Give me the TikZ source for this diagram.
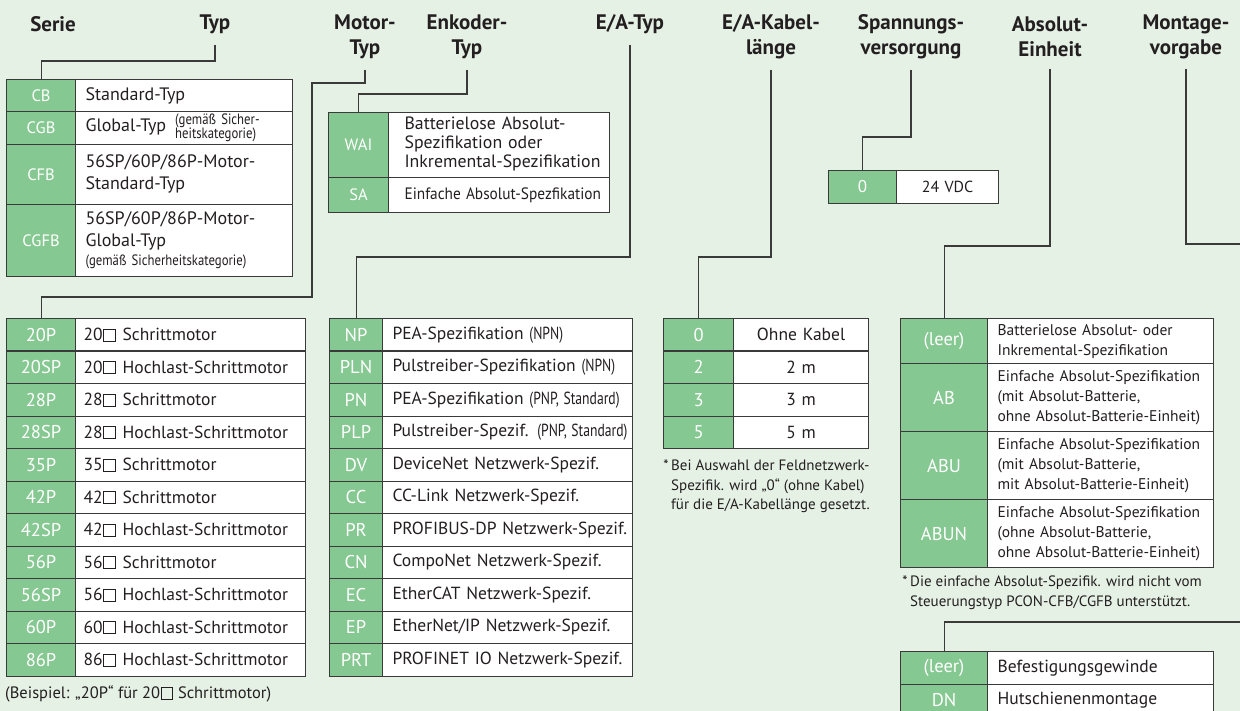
\documentclass[tikz,border=0pt]{standalone}
\usepackage{fontspec}
\setmainfont{PT Sans}
\usepackage{graphicx}
\usepackage{tikz}
\usetikzlibrary{positioning}
\definecolor{pBg}{HTML}{E5F1E5}
\definecolor{pCode}{HTML}{86C891}
\definecolor{pInk}{HTML}{231F20}
\definecolor{pLine}{HTML}{3A3A3A}

\newcommand{\fsz}[2]{\fontsize{#1}{#2}\selectfont}
\newcommand{\cnd}[1]{\scalebox{0.78}[1]{#1}}
\newcommand{\rows}[1]{\begin{tabular}[c]{@{}l@{}}#1\end{tabular}}
\newcommand{\qsq}{\kern0.04em{\setlength{\fboxsep}{0pt}\setlength{\fboxrule}{0.055em}\fbox{\rule{0pt}{0.62em}\rule{0.62em}{0pt}}}\kern0.04em}

\tikzset{
  headlbl/.style={font=\fsz{21}{25}\bfseries, text=pInk, align=center, inner sep=0pt},
  wire/.style={draw=pLine, line width=1.1pt},
  codecell/.style={draw=pLine, line width=1.1pt, fill=pCode, text=white, inner sep=0pt, anchor=north west, font=\fsz{18.5}{20}},
  desccell/.style={draw=pLine, line width=1.1pt, fill=white, text=pInk, inner ysep=0pt, anchor=north west, align=left, font=\fsz{17.5}{21}},
  fnote/.style={text=pInk, inner sep=0pt, anchor=north west, align=left, font=\fsz{15}{19.5}}
}

\begin{document}
\begin{tikzpicture}[x=1pt, y=-1pt]
  \useasboundingbox (0,0) rectangle (1240,711);
  \fill[pBg] (0,0) rectangle (1240,711);

  % headings
  \node[headlbl] (hSerie) at (53,24) {Serie};
  \node[headlbl] (hTyp) at (215,24) {Typ};
  \node[headlbl] (hMotor) at (365,37) {Motor-\\Typ};
  \node[headlbl] (hEnk) at (467,37) {Enkoder-\\Typ};
  \node[headlbl] (hIO) at (630,24) {E/A-Typ};
  \node[headlbl] (hKab) at (771,37) {E/A-Kabel-\\länge};
  \node[headlbl] (hVolt) at (911,37) {Spannungs-\\versorgung};
  \node[headlbl] (hAbs) at (1050,37) {Absolut-\\Einheit};
  \node[headlbl] (hMont) at (1186,37) {Montage-\\vorgabe};

  % Typ
  \node[codecell, font=\fsz{16.5}{20}, minimum width=69pt, minimum height=32pt] (tc0) at (6,79) {CB};
  \node[desccell, font=\fsz{18}{22}, text width=197pt, inner xsep=10pt, minimum height=32pt] (tt0) at (75,79) {Standard-Typ};
  \node[codecell, font=\fsz{16.5}{20}, minimum width=69pt, minimum height=33pt] (tc1) at (6,111) {CGB};
  \node[desccell, font=\fsz{18}{22}, text width=197pt, inner xsep=10pt, minimum height=33pt] (tt1) at (75,111)
    {\mbox{Global-Typ\hspace{9pt}{\fsz{15}{13}\begin{tabular}[c]{@{}l@{}}\scalebox{0.85}[1]{(gemäß Sicher-}\\\scalebox{0.85}[1]{heitskategorie)}\end{tabular}}}};
  \node[codecell, font=\fsz{16.5}{20}, minimum width=69pt, minimum height=60pt] (tc2) at (6,144) {CFB};
  \node[desccell, font=\fsz{18}{22}, text width=197pt, inner xsep=10pt, minimum height=60pt] (tt2) at (75,144) {\rows{56SP/60P/86P-Motor-\\Standard-Typ}};
  \node[codecell, font=\fsz{16.5}{20}, minimum width=69pt, minimum height=72pt] (tc3) at (6,204) {CGFB};
  \node[desccell, font=\fsz{18}{22}, text width=197pt, inner xsep=10pt, minimum height=72pt] (tt3) at (75,204)
    {\rows{56SP/60P/86P-Motor-\\Global-Typ\\[-3pt]{\fsz{15}{15}\scalebox{0.85}[1]{(gemäß Sicherheitskategorie)}}}};

  % Enkoder-Typ
  \node[codecell, font=\fsz{16.5}{20}, minimum width=60pt, minimum height=65pt] (wc0) at (328,112) {WAI};
  \node[desccell, font=\fsz{17.8}{19}, text width=189pt, inner xsep=16pt, minimum height=65pt] (wt0) at (388,112)
    {\rows{Batterielose Absolut-\\Spezifikation oder\\Inkremental-Spezifikation}};
  \node[codecell, font=\fsz{16.5}{20}, minimum width=60pt, minimum height=35pt] (wc1) at (328,177) {SA};
  \node[desccell, font=\fsz{16.5}{18.5}, text width=189pt, inner xsep=16pt, minimum height=35pt] (wt1) at (388,177)
    {\mbox{\scalebox{0.93}[1]{Einfache Absolut-Spezfikation}}};

  % Spannungsversorgung
  \node[codecell, font=\fsz{17}{20}, minimum width=68pt, minimum height=33pt] (vc0) at (828,170) {0};
  \node[desccell, align=center, font=\fsz{16}{20}, text width=102pt, inner xsep=0pt, minimum height=33pt] (vt0) at (896,170) {24 VDC};

  % Motor-Typ
  \foreach \cd/\nr/\kind [count=\i from 0] in {20P/20/Schrittmotor, 20SP/20/Hochlast-Schrittmotor,
      28P/28/Schrittmotor, 28SP/28/Hochlast-Schrittmotor, 35P/35/Schrittmotor, 42P/42/Schrittmotor,
      42SP/42/Hochlast-Schrittmotor, 56P/56/Schrittmotor, 56SP/56/Hochlast-Schrittmotor,
      60P/60/Hochlast-Schrittmotor, 86P/86/Hochlast-Schrittmotor}
  {
    \node[codecell, minimum width=69pt, minimum height=32.5pt] (mc\i) at (6,318+32.5*\i) {\cd};
    \node[desccell, text width=214pt, inner xsep=8pt, minimum height=32.5pt] (mt\i) at (75,318+32.5*\i) {\mbox{\nr\qsq\ \kind}};
  }
  \node[fnote, anchor=west, font=\fsz{16.5}{20}] (motNote) at (5,694) {(Beispiel: „20P“ für 20\qsq\ Schrittmotor)};

  % E/A-Typ
  \foreach \cd/\tx [count=\i from 0] in {NP/{PEA-Spezifikation \cnd{(NPN)}},
      PLN/{Pulstreiber-Spezifikation \cnd{(NPN)}}, PN/{PEA-Spezifikation \cnd{(PNP, Standard)}},
      PLP/{Pulstreiber-Spezif. \cnd{(PNP, Standard)}}, DV/{DeviceNet Netzwerk-Spezif.},
      CC/{CC-Link Netzwerk-Spezif.}, PR/{PROFIBUS-DP Netzwerk-Spezif.}, CN/{CompoNet Netzwerk-Spezif.},
      EC/{EtherCAT Netzwerk-Spezif.}, EP/{EtherNet/IP Netzwerk-Spezif.}, PRT/{PROFINET IO Netzwerk-Spezif.}}
  {
    \node[codecell, minimum width=53pt, minimum height=32.5pt] (ec\i) at (329,318+32.5*\i) {\cd};
    \node[desccell, text width=230pt, inner xsep=10pt, minimum height=32.5pt] (et\i) at (382,318+32.5*\i) {\mbox{\tx}};
  }

  % E/A-Kabellaenge
  \foreach \cd/\tx [count=\i from 0] in {0/Ohne Kabel, 2/2 m, 3/3 m, 5/5 m}
  {
    \node[codecell, minimum width=70pt, minimum height=32.5pt] (kc\i) at (663,318+32.5*\i) {\cd};
    \node[desccell, align=center, text width=135pt, inner xsep=0pt, minimum height=32.5pt] (kt\i) at (733,318+32.5*\i) {\tx};
  }
  \node[fnote] (kabNote) at (671,460) {\llap{*\,}Bei Auswahl der Feldnetzwerk-\\Spezifik. wird „0“ (ohne Kabel)\\für die E/A-Kabellänge gesetzt.};

  % Absolut-Einheit
  \node[codecell, minimum width=87pt, minimum height=45pt] (ac0) at (900,318) {(leer)};
  \node[desccell, font=\fsz{15.5}{20}, text width=206pt, inner xsep=10pt, minimum height=45pt] (at0) at (987,318)
    {\rows{Batterielose Absolut- oder\\Inkremental-Spezifikation}};
  \node[codecell, minimum width=87pt, minimum height=68pt] (ac1) at (900,363) {AB};
  \node[desccell, font=\fsz{15.5}{20}, text width=206pt, inner xsep=10pt, minimum height=68pt] (at1) at (987,363)
    {\rows{Einfache Absolut-Spezifikation\\(mit Absolut-Batterie,\\ohne Absolut-Batterie-Einheit)}};
  \node[codecell, minimum width=87pt, minimum height=68pt] (ac2) at (900,431) {ABU};
  \node[desccell, font=\fsz{15.5}{20}, text width=206pt, inner xsep=10pt, minimum height=68pt] (at2) at (987,431)
    {\rows{Einfache Absolut-Spezifikation\\(mit Absolut-Batterie,\\mit Absolut-Batterie-Einheit)}};
  \node[codecell, minimum width=87pt, minimum height=68pt] (ac3) at (900,499) {ABUN};
  \node[desccell, font=\fsz{15.5}{20}, text width=206pt, inner xsep=10pt, minimum height=68pt] (at3) at (987,499)
    {\rows{Einfache Absolut-Spezifikation\\(ohne Absolut-Batterie,\\ohne Absolut-Batterie-Einheit)}};
  \node[fnote] (absNote) at (910,576) {\llap{*\,}Die einfache Absolut-Spezifik. wird nicht vom\\Steuerungstyp PCON-CFB/CGFB unterstützt.};

  % Montagevorgabe
  \node[codecell, minimum width=87pt, minimum height=32.5pt] (gc0) at (900,651) {(leer)};
  \node[desccell, text width=206pt, inner xsep=10pt, minimum height=32.5pt] (gt0) at (987,651) {Befestigungsgewinde};
  \node[codecell, minimum width=87pt, minimum height=32.5pt] (gc1) at (900,683.5) {DN};
  \node[desccell, text width=206pt, inner xsep=10pt, minimum height=32.5pt] (gt1) at (987,683.5) {Hutschienenmontage};

  % connectors
  \draw[wire] (hTyp.south |- 0,45) |- (tc0.north |- 0,61) -- (tc0.north);
  \draw[wire] (hMotor.south |- 0,70) |- (312,83) |- (mc0.north |- 0,297) -- (mc0.north);
  \draw[wire] (hEnk.south |- 0,70) |- (wc0.north |- 0,94) -- (wc0.north);
  \draw[wire] (hIO.south |- 0,45) |- (ec0.north |- 0,257) -- (ec0.north);
  \draw[wire] (hKab.south |- 0,70) |- (kc0.north |- 0,257) -- (kc0.north);
  \draw[wire] (hVolt.south |- 0,70) |- (vc0.north |- 0,137) -- (vc0.north);
  \draw[wire] (hAbs.south |- 0,69) |- (ac0.north |- 0,246) -- (ac0.north);
  \coordinate (montOut) at (1240,244);
  \coordinate (montIn) at (1240,622);
  \draw[wire] (hMont.south |- 0,69) |- (montOut);
  \draw[wire] (montIn) -| (gc0.north);
\end{tikzpicture}
\end{document}
